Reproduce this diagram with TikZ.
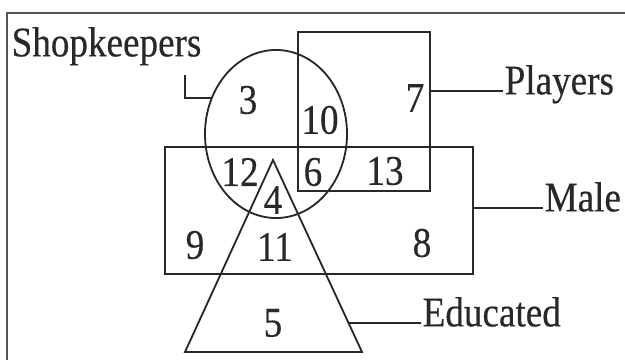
\documentclass[tikz,border=0pt]{standalone}
\usepackage{fontspec}
\setmainfont{Liberation Serif}
\newfontfamily\vennfont[FakeStretch=0.88, FakeBold=0.35]{Liberation Serif}
\usetikzlibrary{shapes.geometric,calc,positioning}
\definecolor{inkgray}{RGB}{40,40,40}
\definecolor{framegray}{RGB}{85,85,85}

\begin{document}
\begin{tikzpicture}[
 x=0.025cm, y=-0.025cm,
 setline/.style={draw=inkgray, line width=1.3pt},
 setbox/.style={rectangle, setline, inner sep=0pt},
 setoval/.style={ellipse, setline, inner sep=0pt, minimum width=3.55cm, minimum height=4.2cm},
 num/.style={text=inkgray, font=\vennfont\fontsize{30}{34}\selectfont, inner sep=0pt},
 setname/.style={text=inkgray, font=\vennfont\fontsize{30}{34}\selectfont, inner sep=1pt, anchor=west, text height=0.7em, text depth=0.22em},
 tie/.style={draw=inkgray, line width=1.3pt}
]
\useasboundingbox (0,0) rectangle (625,360);

% Frame
\draw[framegray, line width=1.8pt] (625,13) -- (7,13) -- (7,360);

% Sets
\node[setbox, minimum width=3.3cm, minimum height=3.975cm] (players) at (364,111.5) {};
\node[setbox, minimum width=7.7cm, minimum height=3.175cm] (male) at (319,210.5) {};
\node[setoval] (shop) at (276,134) {};
\coordinate (apex) at (273,160);
\coordinate (baseL) at (185,352);
\coordinate (baseR) at (362,352);
\draw[setline, line join=miter] (apex) -- (baseL) -- (baseR) -- cycle;

% Region counts
\node[num] (n3) at (248,100) {3};
\node[num] (n10) at (320,120) {10};
\node[num] (n7) at (415,98) {7};
\node[num] (n12) at (240,172) {12};
\node[num] (n6) at (313,172) {6};
\node[num] (n13) at (385,171) {13};
\node[num] (n4) at (273,200) {4};
\node[num] (n9) at (195,245) {9};
\node[num] (n11) at (275,247) {11};
\node[num] (n8) at (422,243) {8};
\node[num] (n5) at (273,323) {5};

% Set names
\node[setname] (shopname) at (10,53) {Shopkeepers};
\node[setname] (playname) at (503,91) {Players};
\node[setname] (malename) at (543,208) {Male};
\node[setname] (eduname) at (421,323) {Educated};

% Connectors
\coordinate (shoptail) at (185,75);
\draw[tie] (shop.151) -| (shoptail);
\draw[tie] (players.east |- playname.west) -- (playname.west);
\draw[tie] (male.east |- malename.west) -- (malename.west);
\draw[tie] ($(apex)!0.849!(baseR)$) -- (eduname.west);

\end{tikzpicture}
\end{document}
